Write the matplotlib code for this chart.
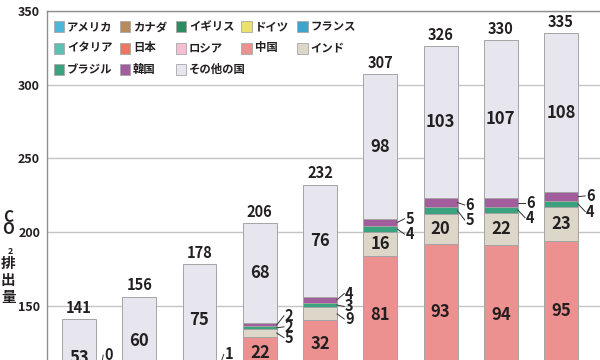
import matplotlib
matplotlib.use('Agg')
import matplotlib.pyplot as plt
from matplotlib.patches import Rectangle
import numpy as np

plt.rcParams['font.family'] = ['Noto Sans CJK JP', 'DejaVu Sans']

# ---------------- data (億トン) ----------------
categories = ['1971', '1975', '1980', '1990', '2000', '2010', '2015', '2017', '2018']
countries = ['アメリカ', 'カナダ', 'イギリス', 'ドイツ', 'フランス',
             'イタリア', '日本', 'ロシア', '中国', 'インド',
             'ブラジル', '韓国', 'その他の国']
colors = ['#4db6d9', '#b98a5c', '#2f8c62', '#ebe06e', '#3fa3cc',
          '#5cc1b3', '#eb7763', '#f3bfd2', '#ec9090', '#ddd7ca',
          '#3aa27f', '#a25e9c', '#e7e5ed']
usa     = [43, 44, 47, 50, 55, 52, 51, 49, 50]
canada  = [3, 3, 4, 4, 5, 5, 5, 5, 6]
uk      = [6, 6, 6, 5, 5, 5, 4, 4, 4]
germany = [10, 10, 10, 9, 8, 8, 7, 7, 7]
france  = [4, 4, 4, 3, 4, 3, 3, 3, 3]
italy   = [3, 3, 4, 4, 4, 4, 3, 3, 3]
japan   = [8, 9, 9, 11, 12, 11, 11, 11, 11]
russia  = [0, 0, 0, 21, 15, 15, 15, 15, 15]
china   = [8, 11, 13, 22, 32, 81, 93, 94, 95]
india   = [2, 3, 3, 5, 9, 16, 20, 22, 23]
brazil  = [1, 2, 2, 2, 3, 4, 5, 4, 4]
korea   = [0, 1, 1, 2, 4, 5, 6, 6, 6]
others  = [53, 60, 75, 68, 76, 98, 103, 107, 108]
series = [usa, canada, uk, germany, france, italy, japan, russia,
          china, india, brazil, korea, others]

# ---------------- layout ----------------
W, H = 600, 360
fig = plt.figure(figsize=(6, 3.6), dpi=100)
ax = fig.add_axes([47 / W, 0, 553 / W, (H - 10.9) / H])
ax.set_ylim(113.2, 350)
ax.set_xlim(-0.531, 8.647)

x = np.arange(len(categories))
bw = 0.564
bottom = np.zeros(len(categories))
centers = {}
for name, vals, col in zip(countries, series, colors):
    v = np.array(vals, dtype=float)
    ax.bar(x, v, bw, bottom=bottom, color=col, edgecolor='#a4a4a4',
           linewidth=0.7, zorder=3)
    centers[name] = bottom + v / 2
    if name in ('中国', 'インド', 'その他の国'):
        for i in range(len(x)):
            if v[i] >= 10:
                ax.text(x[i], bottom[i] + v[i] / 2, f'{int(v[i])}', ha='center',
                        va='center', fontsize=12, fontweight='bold',
                        color='#231f20', zorder=5)
    bottom = bottom + v
totals = bottom

for i in range(len(x)):
    ax.annotate(f'{int(totals[i])}', (x[i], totals[i]), xytext=(0, 2.5),
                textcoords='offset points', ha='center', va='bottom',
                fontsize=10.5, fontweight='bold', color='#231f20', zorder=5)

# small segment labels with leader lines: (bar, series, label y)
small_labels = [
    (0, '韓国', 116.5),
    (2, '韓国', 117.0),
    (3, '韓国', 143.2), (3, 'ブラジル', 135.7), (3, 'インド', 128.3),
    (4, '韓国', 158.3), (4, 'ブラジル', 149.5), (4, 'インド', 141.0),
    (5, '韓国', 209.0), (5, 'ブラジル', 198.6),
    (6, '韓国', 218.3), (6, 'ブラジル', 208.2),
    (7, '韓国', 220.0), (7, 'ブラジル', 209.8),
    (8, '韓国', 224.5), (8, 'ブラジル', 213.9),
]
for bi, name, ly in small_labels:
    val = series[countries.index(name)][bi]
    cy = centers[name][bi]
    x0 = x[bi] + bw / 2
    ax.plot([x0, x0 + 0.12], [cy, ly], color='#333333', lw=0.7, zorder=4,
            clip_on=False)
    ax.text(x0 + 0.135, ly, f'{val}', ha='left', va='center', fontsize=10.5,
            fontweight='bold', color='#231f20', zorder=5)

# axes styling
ax.set_yticks([150, 200, 250, 300, 350])
ax.tick_params(axis='y', length=0, pad=5, labelcolor='#231f20')
for lab in ax.get_yticklabels():
    lab.set_fontweight('bold')
    lab.set_fontsize(9)
ax.set_xticks([])
ax.grid(axis='y', color='#c4c4c4', lw=1, zorder=0)
ax.set_axisbelow(True)
for s in ('right', 'bottom'):
    ax.spines[s].set_visible(False)
ax.spines['left'].set_color('#8f8f8f')
ax.spines['top'].set_color('#8f8f8f')
ax.spines['left'].set_linewidth(1)
ax.spines['top'].set_linewidth(1)


def px(xp, yp):
    return xp / W, 1 - yp / H


# y label, stacked characters
for ch, (xp, yp), fs in [('C', (8.3, 216.5), 11), ('O', (8.3, 229.5), 11),
                         ('2', (10.5, 251), 6.5), ('排', (8.3, 263), 10.5),
                         ('出', (8.3, 280), 10.5), ('量', (8.3, 297), 10.5)]:
    fig.text(*px(xp, yp), ch, ha='center', va='center', fontsize=fs,
             fontweight='bold', color='#231f20')

# legend (row-major, 5 columns)
col_x = [53.5, 119.5, 175.5, 241.0, 297.0]
row_y = [26.7, 48.0, 69.3]
pw, ph = 10.5, 11
for k, (name, col) in enumerate(zip(countries, colors)):
    r, c = divmod(k, 5)
    x0, yc = col_x[c], row_y[r]
    fx, fy = px(x0, yc + ph / 2)
    fig.add_artist(Rectangle((fx, fy), pw / W, ph / H, transform=fig.transFigure,
                             facecolor=col, edgecolor='#a8a8a8', lw=0.6))
    fig.text(*px(x0 + pw + 3, yc), name, ha='left', va='center', fontsize=8.2,
             fontweight='bold', color='#231f20')

fig.savefig('out.png', dpi=100)
